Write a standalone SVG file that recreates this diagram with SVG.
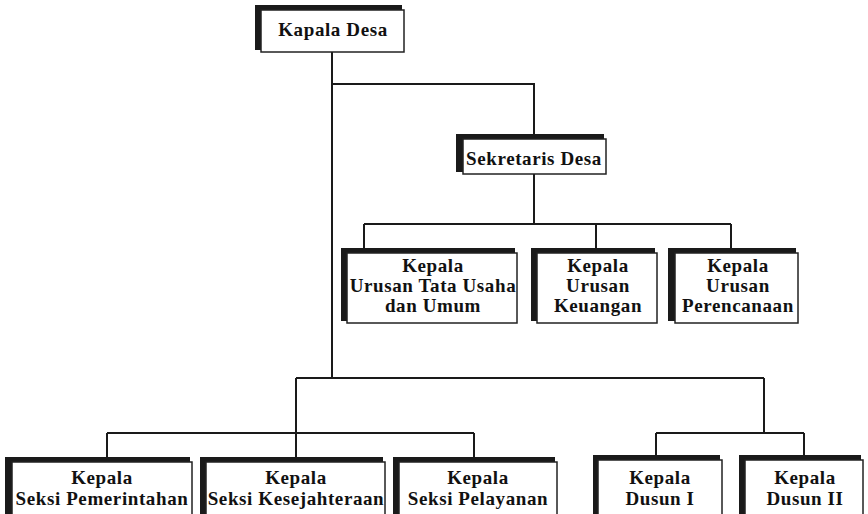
<svg xmlns="http://www.w3.org/2000/svg" width="868" height="514" viewBox="0 0 868 514">
<style>
.sh{fill:#1a1a1a}
.bx{fill:#fff;stroke:#222;stroke-width:1.5}
.t{font-family:"Liberation Serif","Times New Roman",serif;font-weight:bold;font-size:19px;letter-spacing:0.6px;fill:#111;text-anchor:middle}
.c{fill:none;stroke:#1a1a1a;stroke-width:2}
</style>
<rect width="868" height="514" fill="#fff"/>
<g id="connectors" class="c">
<path d="M332,52 V378"/>
<path d="M332,84 H534 V134"/>
<path d="M534,174 V224 M364,224 H731 M364,224 V248 M596,224 V248 M731,224 V248"/>
<path d="M296,378 H764 M296,378 V457 M107,433 H474 M107,433 V457 M474,433 V457"/>
<path d="M764,378 V433 M656,433 H804 M656,433 V455 M804,433 V455"/>
</g>
<g id="kepala-desa">
<rect class="sh" x="255" y="5" width="147" height="45"/>
<rect class="bx" x="261" y="10" width="143" height="42"/>
<text class="t" x="333" y="36">Kapala Desa</text>
</g>
<g id="sekretaris-desa">
<rect class="sh" x="456" y="134" width="148" height="38"/>
<rect class="bx" x="463" y="139" width="143" height="35"/>
<text class="t" x="534" y="165">Sekretaris Desa</text>
</g>
<g id="urusan-tu">
<rect class="sh" x="341" y="248" width="174" height="73"/>
<rect class="bx" x="347" y="253" width="170" height="70"/>
<text class="t" x="433" y="272">Kepala</text>
<text class="t" x="433" y="292">Urusan Tata Usaha</text>
<text class="t" x="433" y="312">dan Umum</text>
</g>
<g id="urusan-keuangan">
<rect class="sh" x="531" y="248" width="124" height="73"/>
<rect class="bx" x="537" y="253" width="120" height="70"/>
<text class="t" x="598" y="272">Kepala</text>
<text class="t" x="598" y="292">Urusan</text>
<text class="t" x="598" y="312">Keuangan</text>
</g>
<g id="urusan-perencanaan">
<rect class="sh" x="668" y="248" width="128" height="73"/>
<rect class="bx" x="675" y="253" width="123" height="70"/>
<text class="t" x="738" y="272">Kepala</text>
<text class="t" x="738" y="292">Urusan</text>
<text class="t" x="738" y="312">Perencanaan</text>
</g>
<g id="seksi-pemerintahan">
<rect class="sh" x="5" y="457" width="185" height="70"/>
<rect class="bx" x="12" y="462" width="180" height="70"/>
<text class="t" x="102" y="484">Kepala</text>
<text class="t" x="102" y="505">Seksi Pemerintahan</text>
</g>
<g id="seksi-kesejahteraan">
<rect class="sh" x="200" y="457" width="183" height="70"/>
<rect class="bx" x="206" y="462" width="179" height="70"/>
<text class="t" x="296" y="484">Kepala</text>
<text class="t" x="296" y="505">Seksi Kesejahteraan</text>
</g>
<g id="seksi-pelayanan">
<rect class="sh" x="393" y="457" width="162" height="70"/>
<rect class="bx" x="399" y="462" width="158" height="70"/>
<text class="t" x="478" y="484">Kepala</text>
<text class="t" x="478" y="505">Seksi Pelayanan</text>
</g>
<g id="dusun-1">
<rect class="sh" x="593" y="455" width="127" height="70"/>
<rect class="bx" x="598" y="460" width="124" height="70"/>
<text class="t" x="660" y="484">Kepala</text>
<text class="t" x="660" y="505">Dusun I</text>
</g>
<g id="dusun-2">
<rect class="sh" x="739" y="455" width="122" height="70"/>
<rect class="bx" x="745" y="460" width="118" height="70"/>
<text class="t" x="805" y="484">Kepala</text>
<text class="t" x="805" y="505">Dusun II</text>
</g>
</svg>
